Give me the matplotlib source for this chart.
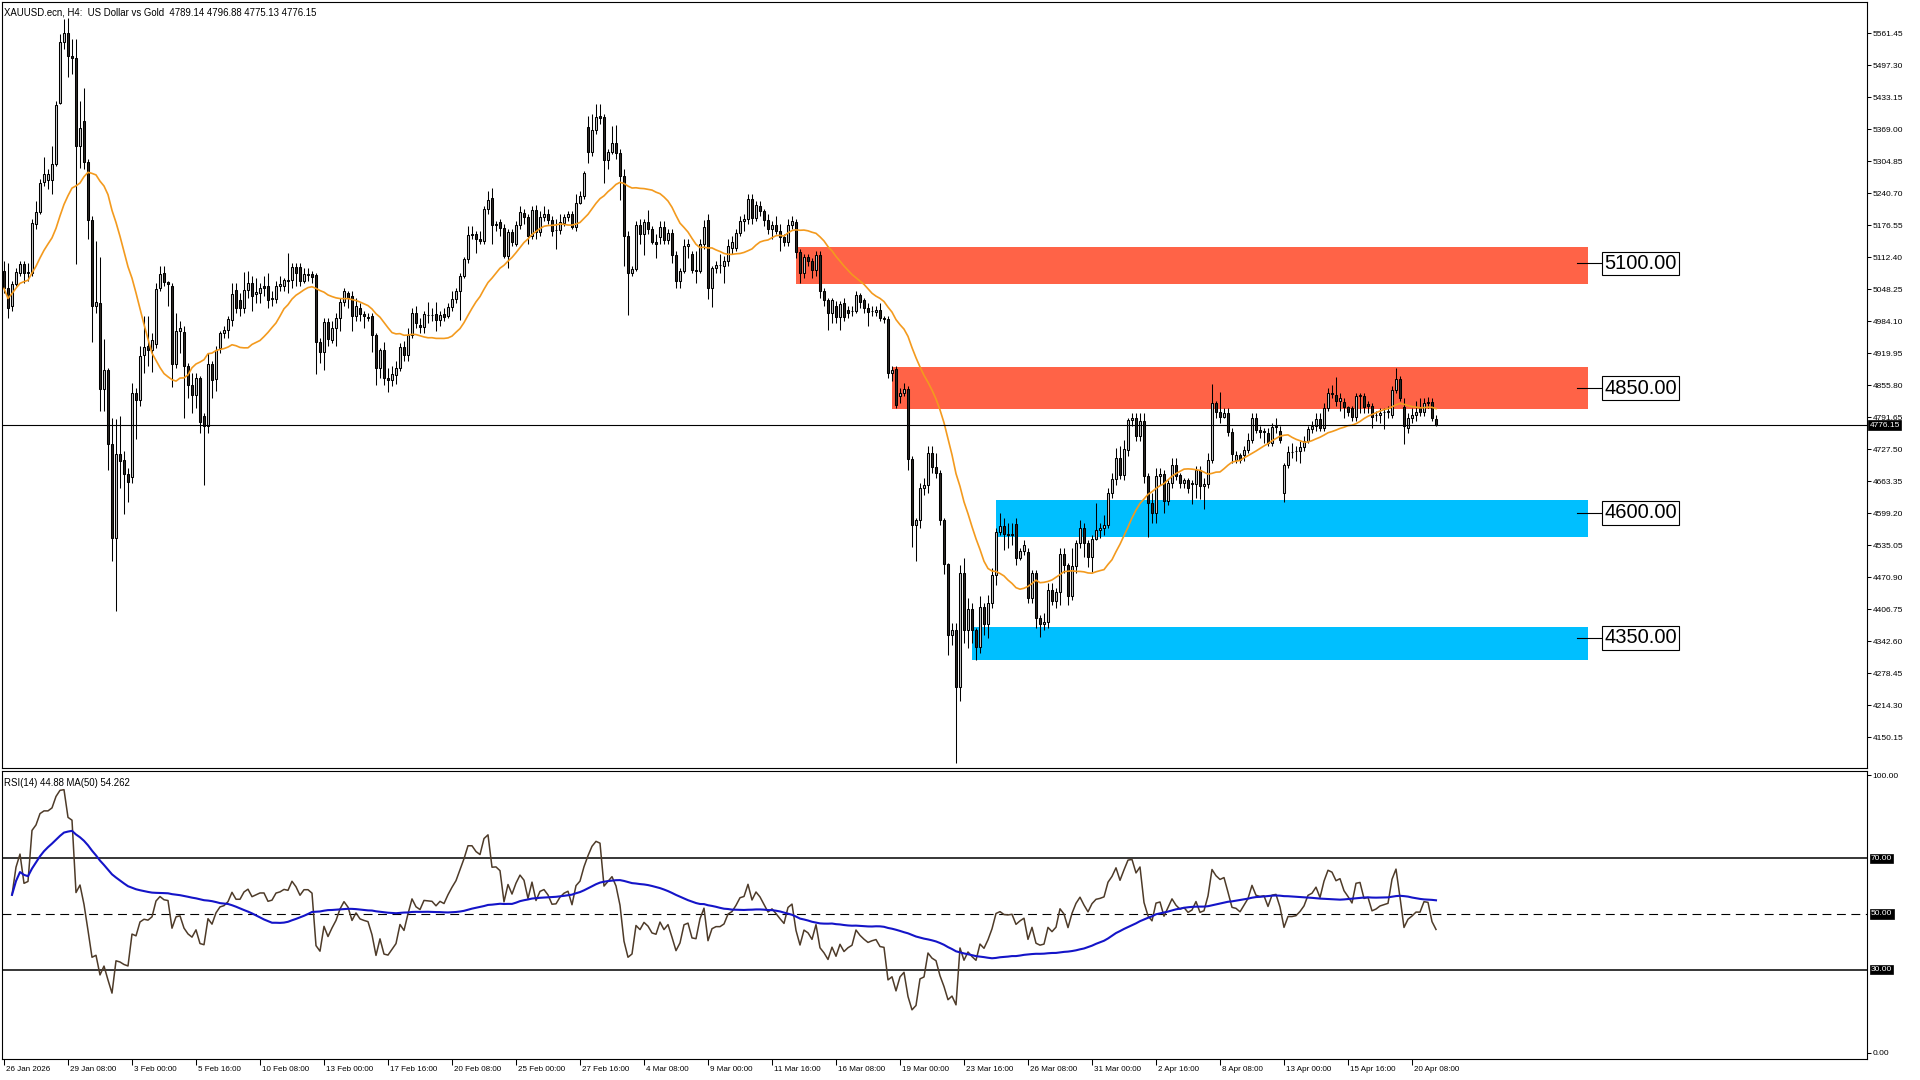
import numpy as np
import pandas as pd
import matplotlib
matplotlib.use("Agg")
import matplotlib.pyplot as plt
import matplotlib.transforms as mtransforms

plt.rcParams['font.family'] = ['Liberation Sans', 'DejaVu Sans']

# ---------------- data (XAUUSD H4 candles) ----------------
opens = [
    5085,5050,5014,5059,5081,5099,5081,5081,5180,5204, 5264,5268,5268,5299,5422,5545,5563,5516,5511,5335,
    5385,5303,5187,5014,5020,4849,4886,4738,4550,4719, 4707,4677,4671,4841,4826,4917,4934,4927,4939,5050,
    5081,5062,5054,4899,4964,4963,4895,4857,4836,4870, 4794,4775,4899,4869,4931,4960,4967,4986,5046,5026,
    5010,5046,5060,5038,5040,5054,5054,5028,5028,5054, 5054,5066,5066,5092,5093,5064,5077,5079,5076,4943,
    4923,4982,4947,4970,4990,5022,5040,5034,4994,5010,
    4999,4993,4995,4957,4890,4926,4870,4866,4876,4890, 4933,4916,4957,5000,4977,4973,4997,4997,4999,4987,
    4998,4995,5012,5029,5045,5074,5108,5159,5159,5150, 5146,5209,5231,5180,5184,5172,5115,5164,5140,5177,
    5202,5194,5156,5207,5164,5193,5199,5187,5168,5167, 5182,5194,5199,5174,5222,5235,5374,5324,5368,5395,
    5394,5307,5324,5341,5321,5275,5156,5080,5089,5177, 5160,5184,5170,5144,5154,5174,5148,5162,5118,5064,
    5084,5135,5120,5087,5084,5140,5187,5050,5090,5097,
    5095,5105,5132,5132,5162,5186,5190,5230,5192,5216, 5206,5188,5169,5177,5166,5154,5143,5178,5183,5124,
    5080,5113,5105,5086,5118,5045,5026,5000,5015,4992, 5020,5007,5005,5005,5037,5026,5011,5005,5003,5007,
    4990,4988,4881,4889,4834,4841,4849,4709,4575,4585, 4650,4655,4721,4693,4679,4585,4498,4355,4366,4251,
    4479,4366,4408,4366,4332,4411,4377,4419,4475,4562, 4573,4557,4555,4577,4509,4524,4521,4430,4479,4389,
    4377,4381,4445,4424,4441,4517,4495,4434,4494,4540,
    4569,4539,4512,4547,4566,4570,4576,4639,4667,4711, 4676,4726,4786,4790,4754,4785,4673,4620,4599,4673,
    4678,4623,4659,4696,4676,4659,4665,4659,4657,4685, 4653,4658,4706,4820,4803,4793,4801,4763,4706,4716,
    4716,4726,4746,4790,4766,4763,4761,4741,4772,4765, 4640,4696,4722,4724,4724,4733,4745,4769,4774,4788,
    4771,4810,4841,4836,4825,4823,4812,4810,4793,4834, 4834,4818,4814,4796,4796,4803,4803,4796,4846,4868,
    4812,4771,4790,4796,4810,4803,4823,4823,4789.14,
]
highs = [
    5105,5100,5065,5090,5105,5105,5100,5190,5225,5270, 5313,5290,5335,5425,5560,5590,5592,5550,5550,5426,
    5452,5310,5195,5145,5113,4948,4890,4790,4788,4795, 4725,4690,4860,4850,4935,4994,4995,4960,5060,5095,
    5094,5065,5060,5000,4985,4975,4900,4880,4880,4875, 4800,4920,4905,4935,4965,4975,4995,5060,5060,5040,
    5083,5085,5075,5070,5060,5075,5080,5045,5065,5075, 5070,5121,5100,5100,5100,5090,5090,5085,5080,4950,
    4990,4990,4985,5000,5030,5050,5045,5045,5030,5020,
    5005,5000,5000,4960,4930,4943,4890,4895,4905,4940, 4945,4970,5010,5015,4990,5005,5022,5010,5022,5005,
    5010,5020,5045,5050,5080,5112,5175,5175,5165,5165, 5215,5245,5251,5185,5190,5180,5170,5170,5185,5215,
    5210,5200,5215,5218,5205,5215,5210,5195,5190,5200, 5200,5205,5205,5240,5245,5285,5395,5400,5419,5419,
    5400,5330,5375,5378,5330,5290,5165,5095,5185,5190, 5190,5207,5175,5160,5185,5185,5170,5170,5125,5090,
    5150,5150,5125,5125,5150,5187,5200,5095,5105,5120,
    5115,5150,5155,5170,5195,5200,5240,5240,5225,5225, 5210,5200,5185,5195,5180,5160,5190,5195,5190,5130,
    5120,5120,5110,5125,5125,5050,5030,5030,5025,5025, 5030,5015,5015,5045,5040,5030,5020,5015,5015,5020,
    4995,4995,4895,4895,4850,4860,4855,4715,4590,4660, 4670,4735,4735,4720,4685,4590,4500,4380,4380,4495,
    4509,4430,4420,4370,4434,4420,4435,4490,4570,4600, 4590,4580,4580,4590,4530,4545,4530,4485,4485,4395,
    4400,4460,4460,4450,4530,4530,4500,4530,4545,4585,
    4580,4545,4555,4619,4580,4595,4650,4680,4730,4735, 4747,4790,4800,4800,4800,4800,4680,4640,4690,4690,
    4685,4665,4710,4710,4680,4670,4670,4665,4695,4695, 4670,4720,4858,4825,4843,4810,4810,4770,4725,4720,
    4735,4760,4800,4800,4775,4770,4770,4780,4790,4775, 4700,4735,4740,4735,4745,4755,4775,4785,4800,4800,
    4820,4850,4856,4873,4840,4830,4815,4815,4840,4840, 4840,4825,4820,4805,4810,4810,4815,4855,4890,4875,
    4830,4800,4810,4825,4830,4830,4832,4830,4796.88,
]
lows = [
    5040,4990,5005,5055,5075,5060,5065,5075,5170,5200, 5255,5250,5240,5295,5420,5530,5474,5480,5099,5291,
    5290,5150,4943,5000,4804,4804,4685,4503,4404,4650, 4598,4622,4660,4749,4815,4880,4895,4883,4930,5045,
    5055,5014,4852,4890,4920,4790,4830,4800,4810,4760, 4655,4760,4830,4845,4920,4950,4950,4975,5000,4995,
    5000,5030,5005,5020,5020,5035,5010,5015,5020,5045, 5045,5040,5050,5055,5055,5060,5065,5060,4879,4900,
    4887,4935,4940,4935,4965,5015,5010,4965,4985,4985,
    4970,4985,4923,4856,4870,4856,4843,4855,4858,4885, 4905,4905,4950,4970,4960,4960,4980,4985,4965,4975,
    4985,4990,5005,5020,4987,5070,5100,5150,5122,5140, 5140,5200,5140,5165,5155,5110,5091,5135,5135,5170,
    5180,5140,5150,5150,5155,5185,5180,5155,5130,5160, 5175,5185,5170,5165,5220,5230,5302,5315,5360,5380,
    5261,5290,5320,5310,5227,5095,4997,5075,5085,5140, 5118,5160,5140,5110,5140,5140,5140,5100,5050,5050,
    5080,5110,5080,5061,5080,5130,5028,5013,5080,5080,
    5060,5095,5120,5125,5155,5165,5180,5180,5185,5195, 5175,5160,5150,5160,5125,5135,5135,5170,5110,5060,
    5070,5095,5070,5075,5030,5015,4966,4980,4980,4967, 4985,4990,4995,5000,5010,5000,4975,4995,4995,4985,
    4980,4870,4865,4810,4820,4835,4687,4532,4504,4570, 4635,4640,4680,4670,4575,4477,4316,4335,4098,4222,
    4340,4330,4340,4306,4320,4355,4350,4410,4455,4555, 4525,4530,4535,4495,4505,4515,4420,4420,4370,4351,
    4365,4370,4415,4410,4415,4480,4415,4425,4480,4530,
    4512,4492,4482,4545,4550,4555,4570,4630,4655,4668, 4665,4715,4775,4745,4745,4660,4552,4580,4580,4655,
    4600,4615,4650,4665,4650,4650,4640,4618,4630,4628, 4607,4650,4700,4790,4780,4790,4755,4700,4700,4700,
    4705,4720,4740,4760,4750,4740,4735,4735,4760,4740, 4622,4690,4710,4705,4700,4725,4740,4760,4765,4765,
    4765,4805,4830,4815,4805,4790,4795,4785,4785,4800, 4800,4800,4771,4785,4780,4768,4790,4790,4840,4825,
    4738,4760,4780,4785,4795,4795,4810,4785,4775.13,
]
closes = [
    5050,5010,5059,5083,5099,5081,5083,5182,5203,5261, 5279,5279,5299,5418,5545,5563,5516,5511,5335,5371,
    5303,5187,5014,5022,4849,4886,4738,4550,4719,4705, 4677,4661,4841,4826,4915,4933,4927,4947,5048,5079,
    5062,5058,4899,4964,4970,4895,4857,4836,4870,4782, 4774,4899,4867,4927,4960,4967,4988,5039,5010,5010,
    5046,5060,5034,5042,5050,5050,5026,5030,5054,5058, 5066,5064,5092,5081,5064,5079,5079,5073,4943,4923,
    4982,4948,4970,4990,5022,5044,5030,4994,5014,4998,
    4994,4991,4957,4890,4926,4870,4866,4878,4890,4933, 4916,4957,5000,4980,4973,4998,4997,4996,4987,4997,
    4993,5012,5029,5045,5074,5108,5158,5158,5150,5146, 5209,5227,5177,5178,5172,5115,5164,5144,5177,5204,
    5194,5156,5207,5164,5193,5199,5187,5166,5167,5184, 5194,5199,5174,5222,5235,5281,5324,5368,5394,5391,
    5307,5324,5341,5321,5275,5156,5080,5089,5177,5160, 5184,5170,5144,5139,5174,5148,5162,5118,5064,5084,
    5135,5140,5087,5084,5140,5174,5050,5090,5097,5097,
    5105,5135,5143,5162,5186,5190,5230,5192,5218,5206, 5188,5169,5177,5166,5154,5143,5178,5186,5124,5080,
    5113,5105,5086,5118,5045,5026,5000,5026,4992,5018, 4992,5000,5005,5037,5022,5011,5002,5005,5007,4990,
    4988,4881,4886,4817,4841,4849,4709,4575,4585,4650, 4655,4721,4693,4679,4585,4498,4355,4366,4251,4479,
    4366,4408,4366,4332,4411,4377,4419,4475,4562,4573, 4557,4555,4558,4509,4524,4535,4430,4479,4389,4377,
    4381,4445,4424,4441,4517,4495,4434,4494,4540,4570,
    4539,4512,4547,4566,4570,4576,4639,4667,4711,4676, 4729,4786,4790,4754,4785,4673,4620,4599,4673,4678,
    4623,4659,4696,4673,4659,4665,4649,4657,4685,4653, 4658,4706,4820,4803,4793,4801,4763,4719,4716,4706,
    4726,4746,4790,4766,4763,4765,4741,4772,4774,4747, 4696,4722,4722,4724,4733,4745,4769,4774,4788,4771,
    4810,4841,4838,4825,4830,4812,4803,4793,4834,4836, 4812,4814,4793,4796,4801,4803,4805,4846,4868,4830,
    4775,4790,4796,4803,4803,4821,4820,4790,4776.15,
]

time_labels = ['26 Jan 2026', '29 Jan 08:00', '3 Feb 00:00', '5 Feb 16:00', '10 Feb 08:00',
               '13 Feb 00:00', '17 Feb 16:00', '20 Feb 08:00', '25 Feb 00:00', '27 Feb 16:00',
               '4 Mar 08:00', '9 Mar 00:00', '11 Mar 16:00', '16 Mar 08:00', '19 Mar 00:00',
               '23 Mar 16:00', '26 Mar 08:00', '31 Mar 00:00', '2 Apr 16:00', '8 Apr 08:00',
               '13 Apr 00:00', '15 Apr 16:00', '20 Apr 08:00']
bars_between_labels = 16

zone_levels = [5100.00, 4850.00, 4600.00, 4350.00]
zone_low = [5058, 4809, 4552, 4306]
zone_high = [5133, 4892, 4626, 4371]
zone_start_bar = [198, 222, 248, 242]
zone_end_bar = 396
zone_type = ['resistance', 'resistance', 'support', 'support']

price_tick_start = 4150.15
price_tick_step = 64.15
price_tick_count = 23

ma_period = 20
rsi_period = 14
rsi_ma_period = 50
rsi_warmup = 2
rsi_levels = [70, 50, 30]

title_text = 'XAUUSD.ecn, H4:  US Dollar vs Gold  4789.14 4796.88 4775.13 4776.15'
rsi_text = 'RSI(14) 44.88 MA(50) 54.262'

# ---------------- figure ----------------
W, H = 1920.0, 1080.0
fig = plt.figure(figsize=(19.2, 10.8), dpi=100)
fig.patch.set_facecolor('white')
ax = fig.add_axes([2 / W, 1 - 768 / H, 1865 / W, 766 / H])
axr = fig.add_axes([2 / W, 1 - 1059 / H, 1865 / W, 288 / H])

o = np.array(opens, float); h = np.array(highs, float)
l = np.array(lows, float); c = np.array(closes, float)
x = np.arange(len(c))

# candles
ax.vlines(x, l, h, color='black', lw=0.75, zorder=3)
bull = c >= o
body_bottom = np.minimum(o, c)
body_height = np.abs(c - o)
fills = np.where(bull, '#c8c8c8', '#2c2824')
ax.bar(x, body_height, width=0.5, bottom=body_bottom, color=fills,
       edgecolor='black', linewidth=0.75, zorder=4)

# moving average
ma = pd.Series(c).rolling(ma_period, min_periods=1).mean()
ax.plot(x, ma, color='#f39a1e', lw=1.2, zorder=5)

# zones
zone_colors = {'resistance': '#ff6347', 'support': '#00bfff'}
for lev, lo, hi, st, kind in zip(zone_levels, zone_low, zone_high, zone_start_bar, zone_type):
    ax.add_patch(plt.Rectangle((st, lo), zone_end_bar - st, hi - lo,
                               facecolor=zone_colors[kind], edgecolor='none', zorder=2))
    ax.plot([zone_end_bar - 2.75, zone_end_bar + 3.5], [lev, lev], color='black', lw=0.8, zorder=6)
    ax.text(zone_end_bar + 4.1, lev, f'{lev:.2f}', fontsize=14.5, ha='left', va='center',
            zorder=7, bbox=dict(boxstyle='square,pad=0.12', fc='white', ec='black', lw=0.8))

# current price line
ax.axhline(c[-1], color='black', lw=0.8, zorder=6)

ax.set_xlim(-0.5, 465.75)
ax.set_ylim(4088.6, 5624.2)
ax.yaxis.tick_right()
pt = [price_tick_start + price_tick_step * k for k in range(price_tick_count)]
ax.set_yticks(pt)
ax.set_yticklabels([f'{v:.2f}' for v in pt])
ax.tick_params(axis='y', direction='out', length=3, width=0.75, pad=1, labelsize=6.0)
ax.set_xticks([])
for s in ax.spines.values():
    s.set_linewidth(0.8)

ax.text(0.5 / 465, 0.9925, title_text, transform=ax.transAxes, fontsize=6.9,
        ha='left', va='top')
bt = mtransforms.blended_transform_factory(ax.transAxes, ax.transData)
ax.text(1.0 + 2.5 / 1865, c[-1], f'{c[-1]:.2f}', transform=bt, fontsize=6.0, color='white',
        ha='left', va='center', zorder=10,
        bbox=dict(boxstyle='square,pad=0.15', fc='black', ec='black', lw=0.5))

# ---------------- RSI ----------------
cs = pd.Series(c)
d = cs.diff()
gain = d.clip(lower=0)
loss = (-d).clip(lower=0)
ag = gain.ewm(alpha=1 / rsi_period, adjust=True).mean()
al = loss.ewm(alpha=1 / rsi_period, adjust=True).mean()
rsi = 100 * ag / (ag + al)
rsi.iloc[:rsi_warmup] = np.nan
rsi_ma = rsi.rolling(rsi_ma_period, min_periods=1).mean()

axr.plot(x, rsi, color='#4e3b29', lw=1.1, zorder=4)
axr.plot(x, rsi_ma, color='#1414c8', lw=1.5, zorder=5)
for lev in rsi_levels:
    if lev == 50:
        axr.axhline(lev, color='black', lw=0.8, dashes=(8, 5), zorder=3)
    else:
        axr.axhline(lev, color='black', lw=1.1, zorder=3)

axr.set_xlim(-0.5, 465.75)
axr.set_ylim(-2.16, 101.44)
axr.yaxis.tick_right()
axr.set_yticks([0, 100])
axr.set_yticklabels(['0.00', '100.00'])
axr.tick_params(axis='y', direction='out', length=3, width=0.75, pad=1, labelsize=6.0)
btr = mtransforms.blended_transform_factory(axr.transAxes, axr.transData)
for lev in rsi_levels:
    axr.text(1.0 + 4 / 1865, lev, f'{lev:.2f}', transform=btr, fontsize=6.0, color='white',
             ha='left', va='center', bbox=dict(boxstyle='square,pad=0.15', fc='black', ec='black', lw=0.5))
axr.text(0.5 / 465, 0.975, rsi_text, transform=axr.transAxes, fontsize=6.9, ha='left', va='top')

tick_pos = [k * bars_between_labels for k in range(len(time_labels))]
axr.set_xticks(tick_pos)
axr.set_xticklabels(time_labels)
axr.tick_params(axis='x', direction='out', length=4, width=0.75, pad=1, labelsize=5.8)
off = mtransforms.ScaledTranslation(2 / 100, 0, fig.dpi_scale_trans)
for lbl in axr.get_xticklabels():
    lbl.set_ha('left')
    lbl.set_transform(lbl.get_transform() + off)
for s in axr.spines.values():
    s.set_linewidth(0.8)

fig.savefig('out.png', dpi=100, facecolor='white')
